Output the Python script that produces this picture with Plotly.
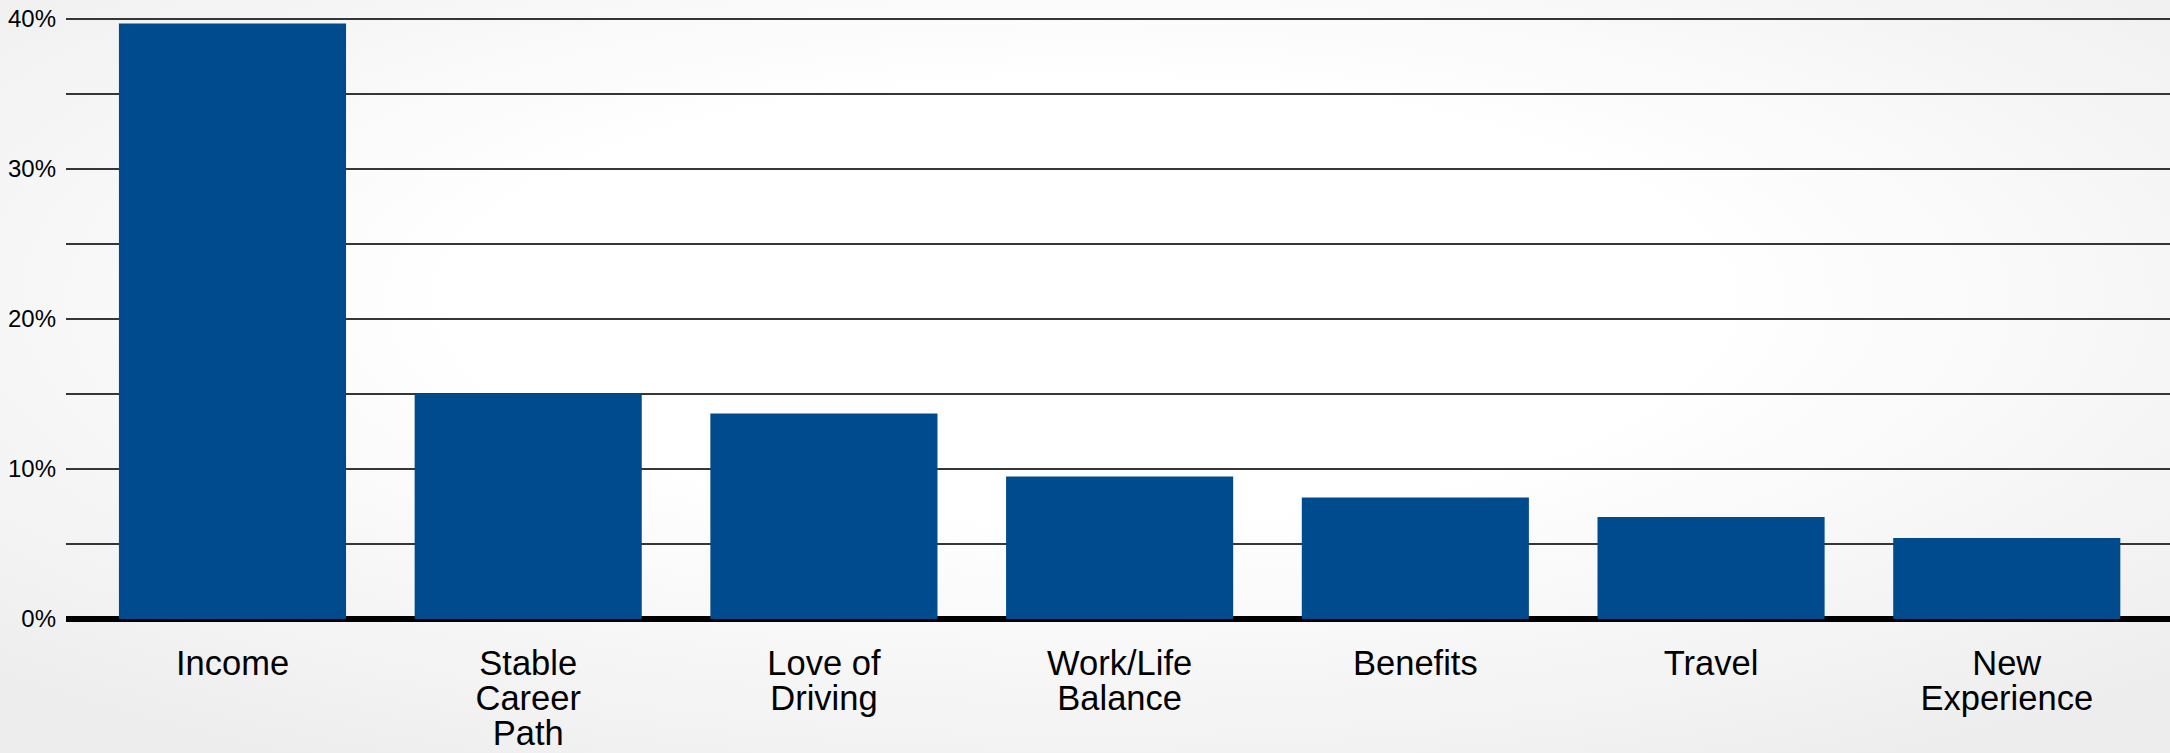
import base64

import plotly.graph_objects as go

# data
categories = ["Income", "Stable Career Path", "Love of Driving", "Work/Life Balance",
              "Benefits", "Travel", "New Experience"]
label_lines = [["Income"], ["Stable", "Career", "Path"], ["Love of", "Driving"],
               ["Work/Life", "Balance"], ["Benefits"], ["Travel"], ["New", "Experience"]]
shares = [39.7, 15.0, 13.7, 9.5, 8.1, 6.8, 5.4]
y_ticks = [0, 10, 20, 30, 40]
y_tick_text = ["0%", "10%", "20%", "30%", "40%"]

W, H = 2170, 753
ML, MR, MT, MB = 66, 0, 13, 134
FONT = "Liberation Sans, Arial, sans-serif"
BAR = "#004A8E"
GRID = "#363636"

# tight line spacing: base font sets the line step, inner span sets glyph size
tick_text = ["<br>".join(f"<span style='font-size:34.5px'>{s}</span>" for s in lines)
             for lines in label_lines]

svg = (
    f"<svg xmlns='http://www.w3.org/2000/svg' width='{W}' height='{H}' preserveAspectRatio='none'>"
    "<defs><radialGradient id='g' cx='50%' cy='40%' r='72%'>"
    "<stop offset='0' stop-color='#ffffff'/>"
    "<stop offset='0.4' stop-color='#ffffff'/>"
    "<stop offset='1' stop-color='#ededed'/>"
    "</radialGradient></defs>"
    f"<rect width='{W}' height='{H}' fill='url(#g)'/></svg>"
)
bg_src = "data:image/svg+xml;base64," + base64.b64encode(svg.encode()).decode()

pw = W - ML - MR
ph = H - MT - MB

fig = go.Figure()
fig.add_trace(go.Bar(
    x=categories,
    y=shares,
    marker=dict(color=BAR, line=dict(width=0)),
    hovertemplate="%{x}: %{y:.1f}%<extra></extra>",
))

fig.update_layout(
    width=W,
    height=H,
    margin=dict(l=ML, r=MR, t=MT, b=MB, pad=0),
    paper_bgcolor="#f2f2f2",
    plot_bgcolor="rgba(0,0,0,0)",
    font=dict(family=FONT, color="black"),
    showlegend=False,
    bargap=0.232,
    images=[dict(
        source=bg_src, xref="paper", yref="paper",
        x=-ML / pw, y=1 + MT / ph, sizex=W / pw, sizey=H / ph,
        xanchor="left", yanchor="top", sizing="stretch", layer="below",
    )],
)

fig.update_xaxes(
    tickmode="array",
    tickvals=categories,
    ticktext=tick_text,
    tickfont=dict(size=27, family=FONT, color="black"),
    tickangle=0,
    ticks="",
    ticklabelstandoff=28,
    automargin=False,
    showgrid=False,
    showline=False,
    zeroline=False,
    range=[-0.563, 6.552],
)

fig.update_yaxes(
    range=[0, 40.4],
    tickmode="array",
    tickvals=y_ticks,
    ticktext=y_tick_text,
    tickfont=dict(size=24, family=FONT, color="black"),
    ticks="",
    ticklabelstandoff=9,
    automargin=False,
    showgrid=True,
    gridcolor=GRID,
    gridwidth=1.8,
    minor=dict(dtick=5, showgrid=True, gridcolor=GRID, gridwidth=1.8),
    zeroline=True,
    zerolinecolor="black",
    zerolinewidth=6,
    showline=False,
)

# page body has a default 8px margin; drop it so the figure fills the window
fig.write_html("out.html", config={"displayModeBar": False},
               post_script="document.body.style.margin='0';")
